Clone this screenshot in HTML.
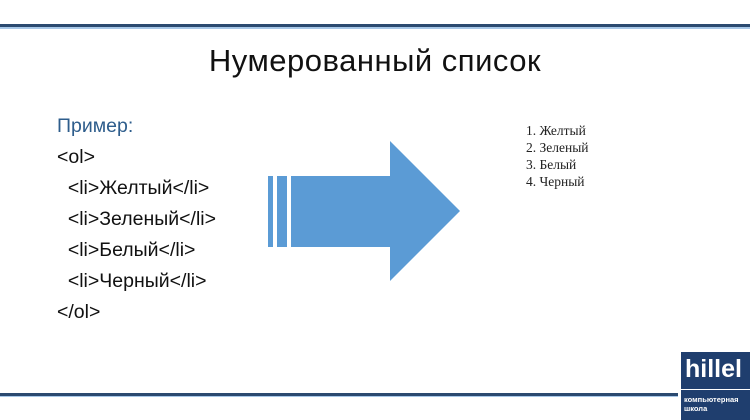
<!DOCTYPE html>
<html><head><meta charset="utf-8"><style>
body{margin:0;width:750px;height:420px;background:#fff;position:relative;overflow:hidden;font-family:"Liberation Sans","DejaVu Sans",sans-serif}
.t{position:absolute;white-space:nowrap}
.code{position:absolute;left:57px;font-size:19.5px;color:#111;line-height:31px}
</style></head><body>
<div style="position:absolute;left:0;top:24px;width:750px;height:3px;background:#2b4a70"></div>
<div style="position:absolute;left:0;top:27px;width:750px;height:2px;background:#a8c8e8"></div>
<div class="t" style="left:0;width:750px;text-align:center;top:43px;font-size:31px;color:#111;letter-spacing:0.5px">Нумерованный список</div>
<div class="code" style="top:111px">
<div style="color:#2e5d8c">Пример:</div>
<div>&lt;ol&gt;</div>
<div>&nbsp;&nbsp;&lt;li&gt;Желтый&lt;/li&gt;</div>
<div>&nbsp;&nbsp;&lt;li&gt;Зеленый&lt;/li&gt;</div>
<div>&nbsp;&nbsp;&lt;li&gt;Белый&lt;/li&gt;</div>
<div>&nbsp;&nbsp;&lt;li&gt;Черный&lt;/li&gt;</div>
<div>&lt;/ol&gt;</div>
</div>
<svg style="position:absolute;left:0;top:0" width="750" height="420">
<g fill="#5b9bd5">
<rect x="268" y="176" width="5" height="71"/>
<rect x="277" y="176" width="10" height="71"/>
<polygon points="291,176 390,176 390,141 460,211 390,281 390,247 291,247"/>
</g>
</svg>
<div class="t" style="left:526px;top:122px;font-family:'Liberation Serif',serif;font-size:13.5px;line-height:17px;color:#222">1. Желтый<br>2. Зеленый<br>3. Белый<br>4. Черный</div>
<div style="position:absolute;left:0;top:393px;width:678px;height:3px;background:#2b4a70"></div>
<div style="position:absolute;left:0;top:396px;width:678px;height:1px;background:#a8c8e8"></div>
<div style="position:absolute;left:681px;top:352px;width:69px;height:68px;background:#1f3e6e"></div>
<div class="t" style="left:685px;top:355px;font-size:25px;font-weight:bold;color:#fff">hillel</div>
<div style="position:absolute;left:681px;top:389px;width:69px;height:1px;background:#fff"></div>
<div class="t" style="left:684px;top:395px;font-size:7.5px;line-height:9px;color:#fff;font-weight:bold">компьютерная<br>школа</div>
</body></html>
